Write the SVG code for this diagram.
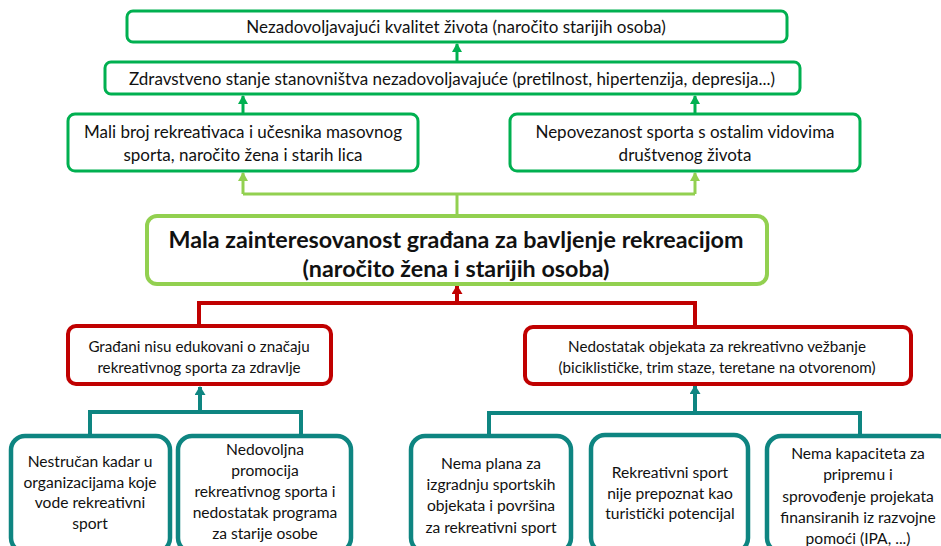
<svg xmlns="http://www.w3.org/2000/svg" width="941" height="546" viewBox="0 0 941 546">
<defs>
<style>
text{font-family:Lato,"Liberation Sans",sans-serif;fill:#111;text-anchor:middle}
.t15{font-size:17px}
.t14{font-size:15.2px}
.t16{font-size:15.6px}
.big{font-size:23.3px;font-weight:bold}
.g{fill:#fff;stroke:#00B050;stroke-width:3}
.lg{fill:#fff;stroke:#92D050;stroke-width:4}
.r{fill:#fff;stroke:#C00000;stroke-width:4}
.tl{fill:#fff;stroke:#0E8581;stroke-width:4.5}
.cg{fill:none;stroke:#00B050;stroke-width:3}
.clg{fill:none;stroke:#92D050;stroke-width:3}
.cr{fill:none;stroke:#C00000;stroke-width:4}
.ct{fill:none;stroke:#0E8581;stroke-width:4}
</style>
<marker id="ag" markerUnits="userSpaceOnUse" markerWidth="10" markerHeight="10" refX="5" refY="1" viewBox="0 0 10 10"><path d="M0,9 L5,0 L10,9 Z" fill="#00B050"/></marker>
<marker id="alg" markerUnits="userSpaceOnUse" markerWidth="10" markerHeight="10" refX="5" refY="1" viewBox="0 0 10 10"><path d="M0,9 L5,0 L10,9 Z" fill="#92D050"/></marker>
<marker id="ar" markerUnits="userSpaceOnUse" markerWidth="11" markerHeight="10" refX="5.5" refY="1" viewBox="0 0 11 10"><path d="M0,9 L5.5,0 L11,9 Z" fill="#C00000"/></marker>
<marker id="at" markerUnits="userSpaceOnUse" markerWidth="11" markerHeight="10" refX="5.5" refY="1" viewBox="0 0 11 10"><path d="M0,9 L5.5,0 L11,9 Z" fill="#0E8581"/></marker>
</defs>
<rect width="941" height="546" fill="#fff"/>

<g id="connectors">
<path class="cg" d="M457,62 V44" marker-end="url(#ag)"/>
<path class="cg" d="M243,114 V96" marker-end="url(#ag)"/>
<path class="cg" d="M695,114 V96" marker-end="url(#ag)"/>
<path class="clg" d="M457,215 V194"/>
<path class="clg" d="M243,194 H695"/>
<path class="clg" d="M243,194 V173" marker-end="url(#alg)"/>
<path class="clg" d="M695,194 V173" marker-end="url(#alg)"/>
<path class="cr" d="M199,325 V303 H695 V327"/>
<path class="cr" d="M457,303 V286" marker-end="url(#ar)"/>
<path class="ct" d="M90,435 V412 H301 V435"/>
<path class="ct" d="M200,412 V387" marker-end="url(#at)"/>
<path class="ct" d="M489,435 V413 H860 V435"/>
<path class="ct" d="M695,413 V386" marker-end="url(#at)"/>
</g>

<g id="n-top">
<rect class="g" x="127" y="11" width="660" height="31" rx="6"/>
<text class="t15" x="456" y="33">Nezadovoljavajući kvalitet života (naročito starijih osoba)</text>
</g>
<g id="n-health">
<rect class="g" x="105" y="62" width="695" height="32" rx="6"/>
<text class="t15" x="452" y="85">Zdravstveno stanje stanovništva nezadovoljavajuće (pretilnost, hipertenzija, depresija...)</text>
</g>
<g id="n-few">
<rect class="g" x="68" y="114" width="350" height="57" rx="7"/>
<text class="t15" x="243" y="138">Mali broj rekreativaca i učesnika masovnog</text>
<text class="t15" x="243" y="161">sporta, naročito žena i starih lica</text>
</g>
<g id="n-disconnect">
<rect class="g" x="510" y="114" width="350" height="57" rx="7"/>
<text class="t15" x="685" y="138">Nepovezanost sporta s ostalim vidovima</text>
<text class="t15" x="685" y="161">društvenog života</text>
</g>
<g id="n-core">
<rect class="lg" x="147" y="216" width="620" height="68" rx="10"/>
<text class="big" x="456" y="248">Mala zainteresovanost građana za bavljenje rekreacijom</text>
<text class="big" x="456" y="277">(naročito žena i starijih osoba)</text>
</g>
<g id="n-edu">
<rect class="r" x="68" y="326" width="263" height="58" rx="8"/>
<text class="t14" x="199" y="352">Građani nisu edukovani o značaju</text>
<text class="t14" x="199" y="373">rekreativnog sporta za zdravlje</text>
</g>
<g id="n-objects">
<rect class="r" x="525" y="327" width="386" height="57" rx="8"/>
<text class="t14" x="717" y="352">Nedostatak objekata za rekreativno vežbanje</text>
<text class="t14" x="717" y="373">(biciklističke, trim staze, teretane na otvorenom)</text>
</g>
<g id="n-staff">
<rect class="tl" x="11" y="436" width="159" height="116" rx="14"/>
<text class="t16" x="90" y="467">Nestručan kadar u</text>
<text class="t16" x="90" y="488">organizacijama koje</text>
<text class="t16" x="90" y="508">vode rekreativni</text>
<text class="t16" x="90" y="529">sport</text>
</g>
<g id="n-promo">
<rect class="tl" x="178" y="436" width="173" height="116" rx="14"/>
<text class="t16" x="265" y="455">Nedovoljna</text>
<text class="t16" x="265" y="476">promocija</text>
<text class="t16" x="265" y="497">rekreativnog sporta i</text>
<text class="t16" x="265" y="518">nedostatak programa</text>
<text class="t16" x="265" y="539">za starije osobe</text>
</g>
<g id="n-plan">
<rect class="tl" x="411" y="436" width="160" height="116" rx="14"/>
<text class="t16" x="491" y="469">Nema plana za</text>
<text class="t16" x="491" y="490">izgradnju sportskih</text>
<text class="t16" x="491" y="511">objekata i površina</text>
<text class="t16" x="491" y="533">za rekreativni sport</text>
</g>
<g id="n-tourism">
<rect class="tl" x="591" y="435" width="157" height="117" rx="14"/>
<text class="t16" x="670" y="478">Rekreativni sport</text>
<text class="t16" x="670" y="499">nije prepoznat kao</text>
<text class="t16" x="670" y="519">turistički potencijal</text>
</g>
<g id="n-capacity">
<rect class="tl" x="767" y="436" width="185" height="116" rx="14"/>
<text class="t16" x="858" y="459">Nema kapaciteta za</text>
<text class="t16" x="858" y="480">pripremu i</text>
<text class="t16" x="858" y="502">sprovođenje projekata</text>
<text class="t16" x="858" y="523">finansiranih iz razvojne</text>
<text class="t16" x="858" y="544">pomoći (IPA, ...)</text>
</g>
</svg>
